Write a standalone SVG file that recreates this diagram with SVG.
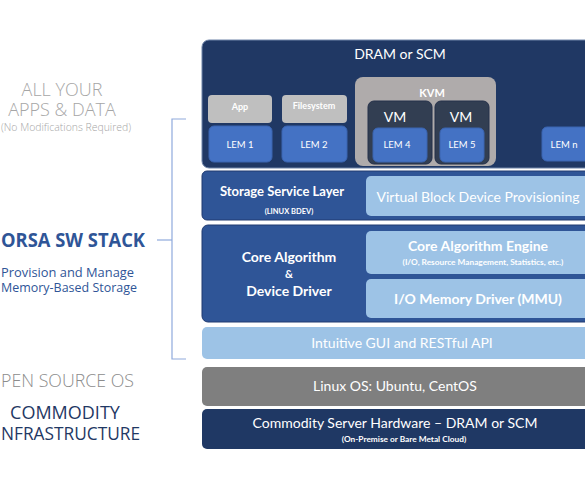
<svg xmlns="http://www.w3.org/2000/svg" width="585" height="478" viewBox="0 0 585 478">
<style>
.lt{font-family:"Open Sans","Noto Sans",sans-serif;font-weight:300;fill:#a6a6a6}
.bl{font-family:"Open Sans","Noto Sans",sans-serif;fill:#2f5597}
.nv{font-family:"Open Sans","Noto Sans",sans-serif;fill:#1f3864}
.w{font-family:Lato,"Liberation Sans",sans-serif;fill:#ffffff;text-anchor:middle}
.b{font-weight:bold}
.lem{fill:#4472c4;stroke:#3a64b0;stroke-width:1}
.gry{fill:#bfbfbf}
.br{fill:none;stroke:#8faadc;stroke-width:1.2}
</style>
<rect width="585" height="478" fill="#ffffff"/>
<g id="left-labels">
<text class="lt" x="62" y="96" font-size="18" text-anchor="middle">ALL YOUR</text>
<text class="lt" x="62" y="116" font-size="18" text-anchor="middle">APPS &amp; DATA</text>
<text class="lt" x="1" y="131" font-size="11" textLength="130" lengthAdjust="spacingAndGlyphs">(No Modifications Required)</text>
<text class="bl b" x="1" y="247" font-size="19" font-weight="bold" textLength="144" lengthAdjust="spacingAndGlyphs">ORSA SW STACK</text>
<text class="bl" x="1" y="277" font-size="13" textLength="133" lengthAdjust="spacingAndGlyphs">Provision and Manage</text>
<text class="bl" x="1" y="292" font-size="13" textLength="136" lengthAdjust="spacingAndGlyphs">Memory-Based Storage</text>
<text class="lt" x="1" y="387" font-size="18" textLength="133" lengthAdjust="spacingAndGlyphs" style="fill:#8c8c8c">PEN SOURCE OS</text>
<text class="nv" x="65" y="419" font-size="18" text-anchor="middle">COMMODITY</text>
<text class="nv" x="1" y="440" font-size="18" textLength="139" lengthAdjust="spacingAndGlyphs">NFRASTRUCTURE</text>
</g>
<g id="connectors">
<path class="br" d="M186,119 H172 V359 H186"/>
<path class="br" d="M157,240 H172"/>
</g>
<g id="dram">
<rect x="202" y="40" width="395" height="128" rx="7" fill="#203864" stroke="#6f84a8" stroke-width="1"/>
<text class="w" x="400" y="59" font-size="14">DRAM or SCM</text>
</g>
<g id="app">
<rect x="208" y="95" width="64" height="28" rx="4" class="gry"/>
<text class="w b" x="240" y="110" font-size="9">App</text>
<rect x="209" y="126" width="63" height="36" rx="5" class="lem"/>
<text class="w" x="240" y="148" font-size="9.5">LEM 1</text>
</g>
<g id="filesystem">
<rect x="282" y="95" width="65" height="28" rx="4" class="gry"/>
<text class="w b" x="314" y="109" font-size="9">Filesystem</text>
<rect x="282" y="126" width="65" height="36" rx="5" class="lem"/>
<text class="w" x="314" y="148" font-size="9.5">LEM 2</text>
</g>
<g id="kvm">
<rect x="355" y="77" width="141" height="89" rx="8" fill="#afabab"/>
<text class="w b" x="432" y="97" font-size="11">KVM</text>
</g>
<g id="vm1">
<rect x="368" y="101" width="64" height="63" rx="6" fill="#323e52" stroke="#25304a"/>
<text class="w" x="395" y="122" font-size="14">VM</text>
<rect x="373" y="128" width="54" height="34" rx="5" class="lem"/>
<text class="w" x="397" y="148" font-size="9.5">LEM 4</text>
</g>
<g id="vm2">
<rect x="435" y="101" width="54" height="63" rx="6" fill="#323e52" stroke="#25304a"/>
<text class="w" x="461" y="122" font-size="14">VM</text>
<rect x="440" y="128" width="44" height="34" rx="5" class="lem"/>
<text class="w" x="462" y="148" font-size="9.5">LEM 5</text>
</g>
<g id="lemn">
<rect x="542" y="127" width="50" height="34" rx="5" class="lem"/>
<text class="w" x="564" y="148" font-size="9.5">LEM n</text>
</g>
<g id="storage-service">
<rect x="202" y="171" width="395" height="49" rx="5" fill="#2f5597" stroke="#203a70"/>
<text class="w b" x="282" y="196" font-size="13">Storage Service Layer</text>
<text class="w b" x="289" y="214" font-size="7.5">(LINUX BDEV)</text>
<rect x="366" y="176" width="230" height="40" rx="5" fill="#9dc3e6"/>
<text class="w" x="478" y="202" font-size="14">Virtual Block Device Provisioning</text>
</g>
<g id="core">
<rect x="202" y="225" width="395" height="97" rx="6" fill="#2f5597" stroke="#203a70"/>
<text class="w b" x="289" y="262" font-size="14">Core Algorithm</text>
<text class="w b" x="289" y="278" font-size="11">&amp;</text>
<text class="w b" x="289" y="296" font-size="14">Device Driver</text>
<rect x="366" y="231" width="230" height="43" rx="5" fill="#9dc3e6"/>
<text class="w b" x="478" y="251" font-size="14">Core Algorithm Engine</text>
<text class="w b" x="483" y="265" font-size="8.3">(I/O, Resource Management, Statistics, etc.)</text>
<rect x="366" y="279" width="230" height="39" rx="5" fill="#9dc3e6"/>
<text class="w b" x="478" y="304" font-size="14">I/O Memory Driver (MMU)</text>
</g>
<g id="gui">
<rect x="202" y="327" width="395" height="32" rx="5" fill="#9dc3e6"/>
<text class="w" x="402" y="348" font-size="14">Intuitive GUI and RESTful API</text>
</g>
<g id="linux">
<rect x="202" y="367" width="395" height="39" rx="5" fill="#7f7f7f"/>
<text class="w" x="395" y="391" font-size="14">Linux OS: Ubuntu, CentOS</text>
</g>
<g id="hardware">
<rect x="202" y="409" width="395" height="40" rx="5" fill="#1f3864"/>
<text class="w" x="395" y="428" font-size="14">Commodity Server Hardware – DRAM or SCM</text>
<text class="w b" x="404" y="442" font-size="8.3">(On-Premise or Bare Metal Cloud)</text>
</g>
</svg>
